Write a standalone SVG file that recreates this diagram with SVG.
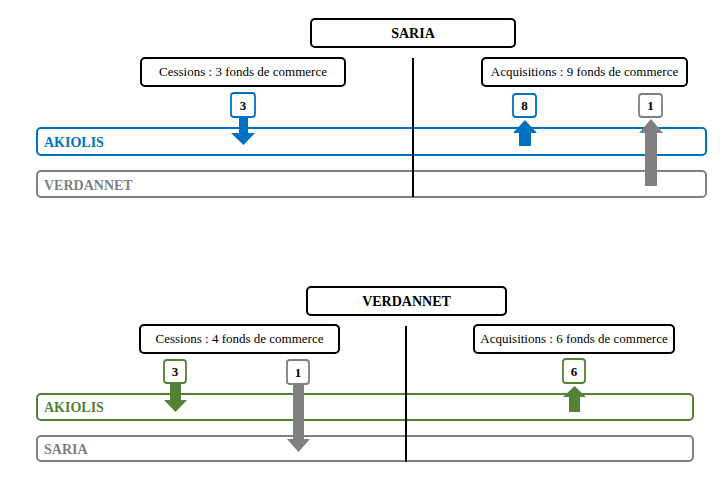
<svg xmlns="http://www.w3.org/2000/svg" width="723" height="477" viewBox="0 0 723 477">
<style>
.box{fill:#fff;stroke:#000;stroke-width:2}
text{font-family:'Liberation Serif','Times New Roman','DejaVu Serif',serif}
.hd{font-weight:bold;font-size:14px;fill:#000;text-anchor:middle}
.lbl{font-size:13px;fill:#000;text-anchor:middle}
.bar{fill:none;stroke-width:2}
.bn{font-weight:bold;font-size:14px}
.num{font-weight:bold;font-size:13px;fill:#000;text-anchor:middle}
.badge{fill:#fff;stroke-width:1.8}
.blue{stroke:#0070C0}
.green{stroke:#538135}
.gray{stroke:#808080}
.div{stroke:#000;stroke-width:2}
</style>
<rect width="723" height="477" fill="#fff"/>
<!-- Top section -->
<g id="bar-akiolis-1"><rect class="bar blue" x="37" y="128" width="669" height="27" rx="4"/><text class="bn" x="44" y="147" fill="#0070C0">AKIOLIS</text></g>
<g id="bar-verdannet-1"><rect class="bar gray" x="37" y="171" width="669" height="26" rx="4"/><text class="bn" x="44" y="190" fill="#808080">VERDANNET</text></g>
<g id="title-saria"><rect class="box" x="311" y="19" width="204" height="28" rx="4"/><text class="hd" x="413" y="38">SARIA</text></g>
<g id="cessions-1"><rect class="box" x="141" y="58" width="204" height="28" rx="4"/><text class="lbl" x="243" y="76">Cessions : 3 fonds de commerce</text></g>
<g id="acquisitions-1"><rect class="box" x="482" y="58" width="205" height="28" rx="4"/><text class="lbl" x="584.5" y="76">Acquisitions : 9 fonds de commerce</text></g>
<!-- Bottom section -->
<g id="bar-akiolis-2"><rect class="bar green" x="37" y="394" width="656" height="26" rx="4"/><text class="bn" x="44" y="412" fill="#538135">AKIOLIS</text></g>
<g id="bar-saria-2"><rect class="bar gray" x="37" y="436" width="656" height="25" rx="4"/><text class="bn" x="44" y="454" fill="#808080">SARIA</text></g>
<g id="title-verdannet"><rect class="box" x="307" y="287" width="199" height="28" rx="4"/><text class="hd" x="406.5" y="306">VERDANNET</text></g>
<g id="cessions-2"><rect class="box" x="140" y="325" width="199" height="28" rx="4"/><text class="lbl" x="239.5" y="343">Cessions : 4 fonds de commerce</text></g>
<g id="acquisitions-2"><rect class="box" x="474" y="325" width="200" height="28" rx="4"/><text class="lbl" x="574" y="343">Acquisitions : 6 fonds de commerce</text></g>
<!-- Connectors -->
<g id="connectors">
<line class="div" x1="413" y1="58" x2="413" y2="197"/>
<line class="div" x1="406" y1="326" x2="406" y2="462"/>
<polygon fill="#0070C0" points="239,117 248,117 248,133 255,133 243.5,145 231,133 239,133"/>
<polygon fill="#0070C0" points="525,120 537,133 531,133 531,146 519,146 519,133 513,133"/>
<polygon fill="#808080" points="651,119 663,133 657,133 657,186 645,186 645,133 639,133"/>
<polygon fill="#538135" points="170,383 181,383 181,400 187,400 175.5,412 164,400 170,400"/>
<polygon fill="#808080" points="293,384 304,384 304,439 310,439 298.5,452 287,439 293,439"/>
<polygon fill="#538135" points="574.5,386 586,397 580,397 580,412 569,412 569,397 563,397"/>
</g>
<!-- Badges -->
<g id="badge-3-top"><rect class="badge blue" x="231" y="93" width="24" height="24" rx="3"/><text class="num" x="243" y="110">3</text></g>
<g id="badge-8-top"><rect class="badge blue" x="513" y="94" width="23" height="23" rx="3"/><text class="num" x="524.5" y="110">8</text></g>
<g id="badge-1-top"><rect class="badge gray" x="639" y="94" width="23" height="23" rx="3"/><text class="num" x="650.5" y="110">1</text></g>
<g id="badge-3-bottom"><rect class="badge green" x="164" y="360" width="22" height="23" rx="3"/><text class="num" x="175" y="376">3</text></g>
<g id="badge-1-bottom"><rect class="badge gray" x="287" y="360" width="22" height="24" rx="3"/><text class="num" x="298" y="377">1</text></g>
<g id="badge-6-bottom"><rect class="badge green" x="563" y="359" width="22" height="24" rx="3"/><text class="num" x="574" y="376">6</text></g>
</svg>
